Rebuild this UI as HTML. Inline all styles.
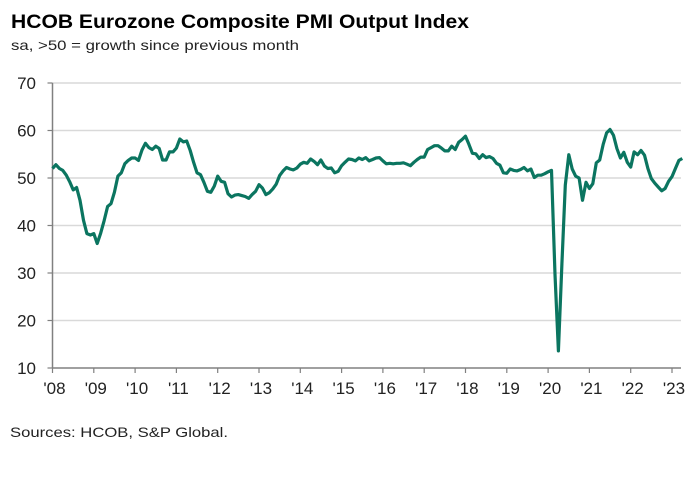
<!DOCTYPE html>
<html><head><meta charset="utf-8"><style>
body{margin:0;background:#fff;width:694px;height:473px;overflow:hidden;font-family:"Liberation Sans",Arial,sans-serif}
svg text{font-family:"Liberation Sans",Arial,sans-serif}
</style></head><body>
<svg id="c" width="694" height="473">
<text x="11" y="28" font-size="19" font-weight="bold" fill="#000" textLength="458" lengthAdjust="spacingAndGlyphs">HCOB Eurozone Composite PMI Output Index</text>
<text x="11" y="50" font-size="14" fill="#222" textLength="288" lengthAdjust="spacingAndGlyphs">sa, &gt;50 = growth  since previous  month</text>
<text x="10" y="437" font-size="14" fill="#222" textLength="218" lengthAdjust="spacingAndGlyphs">Sources: HCOB,  S&amp;P Global.</text>
<g id="grid"></g><g id="axes"></g><g id="series"></g>
</svg>
<script>
const yTicks=[10,20,30,40,50,60,70];
const yearLabels=["'08","'09","'10","'11","'12","'13","'14","'15","'16","'17","'18","'19","'20","'21","'22","'23"];
const pmi2008=[52.0,52.8,52.0,51.6,50.6,49.2,47.5,48.0,45.3,41.1,38.3,38.0];
const pmi2009=[38.3,36.2,38.4,41.0,44.0,44.6,47.0,50.4,51.1,53.0,53.7,54.2];
const pmi2010=[54.2,53.7,55.9,57.3,56.4,56.0,56.7,56.2,53.8,53.8,55.5,55.5];
const pmi2011=[56.3,58.2,57.6,57.8,55.8,53.3,51.1,50.7,49.1,47.2,47.0,48.3];
const pmi2012=[50.4,49.3,49.1,46.7,46.0,46.4,46.5,46.3,46.1,45.7,46.5,47.2];
const pmi2013=[48.6,47.9,46.5,46.9,47.7,48.7,50.5,51.5,52.2,51.9,51.7,52.1];
const pmi2014=[52.9,53.3,53.1,54.0,53.5,52.8,53.8,52.5,52.0,52.1,51.1,51.4];
const pmi2015=[52.6,53.3,54.0,53.9,53.6,54.2,53.9,54.3,53.6,53.9,54.2,54.3];
const pmi2016=[53.6,53.0,53.1,53.0,53.1,53.1,53.2,52.9,52.6,53.3,53.9,54.4];
const pmi2017=[54.4,56.0,56.4,56.8,56.8,56.3,55.7,55.7,56.7,56.0,57.5,58.1];
const pmi2018=[58.8,57.1,55.2,55.1,54.1,54.9,54.3,54.5,54.1,53.1,52.7,51.1];
const pmi2019=[51.0,51.9,51.6,51.5,51.8,52.2,51.5,51.9,50.1,50.6,50.6,50.9];
const pmi2020=[51.3,51.6,29.7,13.6,31.9,48.5,54.9,51.9,50.4,50.0,45.3,49.1];
const pmi2021=[47.8,48.8,53.2,53.8,57.1,59.5,60.2,59.0,56.2,54.2,55.4,53.3];
const pmi2022=[52.3,55.5,54.9,55.8,54.8,52.0,49.9,48.9,48.1,47.3,47.8,49.3];
const pmi2023=[50.3,52.0,53.7,54.1];
const values=[].concat(pmi2008,pmi2009,pmi2010,pmi2011,pmi2012,pmi2013,pmi2014,pmi2015,pmi2016,pmi2017,pmi2018,pmi2019,pmi2020,pmi2021,pmi2022,pmi2023);

const NS="http://www.w3.org/2000/svg";
const X0=52.5, YW=41.3, XR=681;
const x=m=>X0+m/12*YW;
const y=v=>368-(v-10)*4.75;
function mk(t,a,p){const e=document.createElementNS(NS,t);for(const k in a)e.setAttribute(k,a[k]);p.appendChild(e);return e;}
const g=document.getElementById('grid'),ax=document.getElementById('axes'),s=document.getElementById('series');
yTicks.forEach(v=>{
  if(v>10){const l=mk('line',{x1:X0,x2:XR,y1:y(v),y2:y(v),stroke:'#d9d9d9','stroke-width':1.5},g);
  
  }
  const tk=mk('line',{x1:X0-5,x2:X0,y1:y(v),y2:y(v),stroke:'#808080','stroke-width':1.2},ax);
  
  
  const t=mk('text',{x:36,y:y(v)+6,'text-anchor':'end','font-size':17,fill:'#222'},ax);t.textContent=v;
  
  
});
const ya=mk('line',{x1:X0,x2:X0,y1:y(70),y2:y(10),stroke:'#808080','stroke-width':1.5},ax);


const xa=mk('line',{x1:X0,x2:XR,y1:y(10),y2:y(10),stroke:'#808080','stroke-width':1.5},ax);


yearLabels.forEach((lb,i)=>{
  const xx=x(i*12);
  const tk=mk('line',{x1:xx,x2:xx,y1:y(10),y2:y(10)+5,stroke:'#808080','stroke-width':1.2},ax);
  
  
  const t=mk('text',{x:xx+2,y:y(10)+26,'text-anchor':'middle','font-size':17,fill:'#222'},ax);t.textContent=lb;
  
  
});
const d=values.map((v,i)=>(i?'L':'M')+x(i).toFixed(1)+','+y(v).toFixed(1)).join('');
const p=mk('path',{d:d,fill:'none',stroke:'#0b7560','stroke-width':3.2,'stroke-linejoin':'round'},s);


</script>
</body></html>
